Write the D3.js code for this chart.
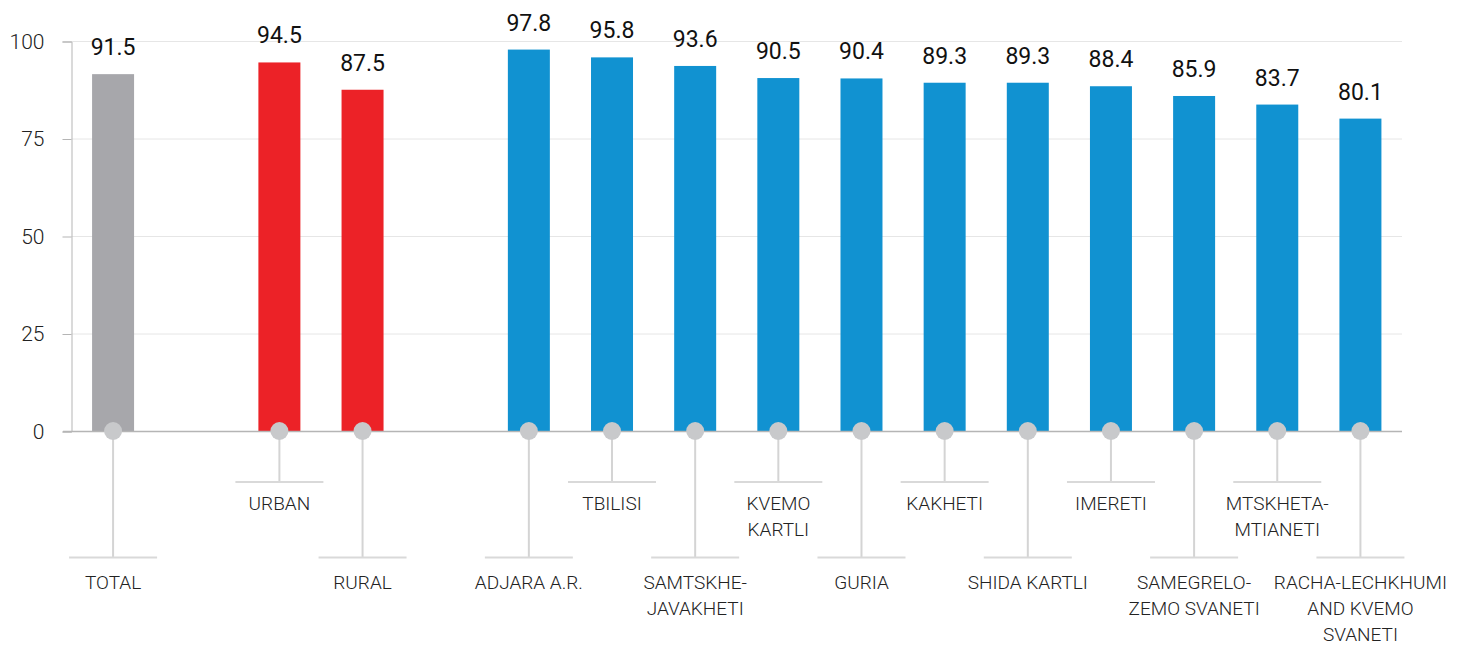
<!DOCTYPE html>
<html>
<head>
<meta charset="utf-8">
<script src="https://cdn.jsdelivr.net/npm/d3@7"></script>
<style>
  body { margin: 0; background: #fff; }
  text { font-family: Roboto, "Open Sans", sans-serif; }
</style>
</head>
<body>
<script>
"use strict";

// data
const categories = ["TOTAL", "URBAN", "RURAL", "ADJARA A.R.", "TBILISI",
  "SAMTSKHE-\nJAVAKHETI", "KVEMO\nKARTLI", "GURIA", "KAKHETI", "SHIDA KARTLI",
  "IMERETI", "SAMEGRELO-\nZEMO SVANETI", "MTSKHETA-\nMTIANETI",
  "RACHA-LECHKHUMI\nAND KVEMO\nSVANETI"];
const values = [91.5, 94.5, 87.5, 97.8, 95.8, 93.6, 90.5, 90.4, 89.3, 89.3, 88.4, 85.9, 83.7, 80.1];
const groups = ["total", "area", "area", "region", "region", "region", "region",
  "region", "region", "region", "region", "region", "region", "region"];
// slot order incl. empty gaps between groups
const slots = ["TOTAL", "gap1", "URBAN", "RURAL", "gap2", "ADJARA A.R.", "TBILISI",
  "SAMTSKHE-\nJAVAKHETI", "KVEMO\nKARTLI", "GURIA", "KAKHETI", "SHIDA KARTLI",
  "IMERETI", "SAMEGRELO-\nZEMO SVANETI", "MTSKHETA-\nMTIANETI",
  "RACHA-LECHKHUMI\nAND KVEMO\nSVANETI"];
const upperLabels = ["URBAN", "TBILISI", "KVEMO\nKARTLI", "KAKHETI", "IMERETI", "MTSKHETA-\nMTIANETI"];
const yTicks = [0, 25, 50, 75, 100];

const colors = { total: "#a7a7ab", area: "#ec2227", region: "#1192d1" };

const m = { width: 1466, height: 645 };
const data = categories.map((c, i) => ({ name: c, value: values[i], group: groups[i] }));

const svg = d3.select("body").append("svg")
  .attr("width", m.width)
  .attr("height", m.height);

const x = d3.scaleBand()
  .domain(slots)
  .range([71.5, 1402])
  .paddingInner(0.495)
  .paddingOuter(0.2475);

const y = d3.scaleLinear().domain([0, 100]).range([431, 41]);

// grid
svg.append("g")
  .selectAll("line")
  .data(yTicks.filter(d => d > 0))
  .enter()
  .append("line")
  .attr("x1", 71.5)
  .attr("x2", 1402)
  .attr("y1", d => y(d) + 0.5)
  .attr("y2", d => y(d) + 0.5)
  .attr("stroke", "#e6e6e6")
  .attr("stroke-width", 1);

// y axis
const yAxis = svg.append("g")
  .attr("transform", "translate(71.5,0.5)")
  .call(d3.axisLeft(y).tickValues(yTicks).tickSize(9).tickPadding(18));
yAxis.select(".domain").attr("stroke", "#b5b5b5");
yAxis.selectAll(".tick line").attr("stroke", "#b5b5b5");
yAxis.selectAll(".tick text")
  .attr("font-size", 21)
  .attr("font-weight", 300)
  .attr("fill", "#222")
  .attr("font-family", "Roboto, sans-serif");

// bars
svg.append("g")
  .selectAll("rect")
  .data(data)
  .enter()
  .append("rect")
  .attr("x", d => x(d.name))
  .attr("y", d => y(d.value))
  .attr("width", x.bandwidth())
  .attr("height", d => y(0) - y(d.value))
  .attr("fill", d => colors[d.group]);

// baseline
svg.append("line")
  .attr("x1", 63)
  .attr("x2", 1402)
  .attr("y1", y(0) + 0.5)
  .attr("y2", y(0) + 0.5)
  .attr("stroke", "#b5b5b5")
  .attr("stroke-width", 1.5);

// value labels
svg.append("g")
  .selectAll("text")
  .data(data)
  .enter()
  .append("text")
  .attr("x", d => x(d.name) + x.bandwidth() / 2)
  .attr("y", d => y(d.value) - 19)
  .attr("text-anchor", "middle")
  .attr("font-size", 23)
  .attr("fill", "#111")
  .text(d => d.value.toFixed(1));

// connectors + labels
const isUpper = d => upperLabels.includes(d.name);
const lab = svg.append("g")
  .selectAll("g")
  .data(data)
  .enter()
  .append("g")
  .attr("transform", d => `translate(${x(d.name) + x.bandwidth() / 2},0)`);

lab.append("line")
  .attr("y1", y(0))
  .attr("y2", d => isUpper(d) ? 482 : 557.5)
  .attr("stroke", "#d4d4d4")
  .attr("stroke-width", 2);

lab.append("line")
  .attr("x1", -44)
  .attr("x2", 44)
  .attr("y1", d => isUpper(d) ? 482 : 557.5)
  .attr("y2", d => isUpper(d) ? 482 : 557.5)
  .attr("stroke", "#d9d9d9")
  .attr("stroke-width", 2);

lab.append("circle")
  .attr("cy", y(0))
  .attr("r", 9)
  .attr("fill", "#c8c9cb");

lab.append("text")
  .attr("text-anchor", "middle")
  .attr("font-size", 19)
  .attr("font-weight", 300)
  .attr("fill", "#222")
  .selectAll("tspan")
  .data(d => d.name.split("\n").map(t => ({ t, up: isUpper(d) })))
  .enter()
  .append("tspan")
  .attr("x", 0)
  .attr("y", (d, i) => (d.up ? 510 : 589) + i * 26)
  .text(d => d.t);
</script>
</body>
</html>
